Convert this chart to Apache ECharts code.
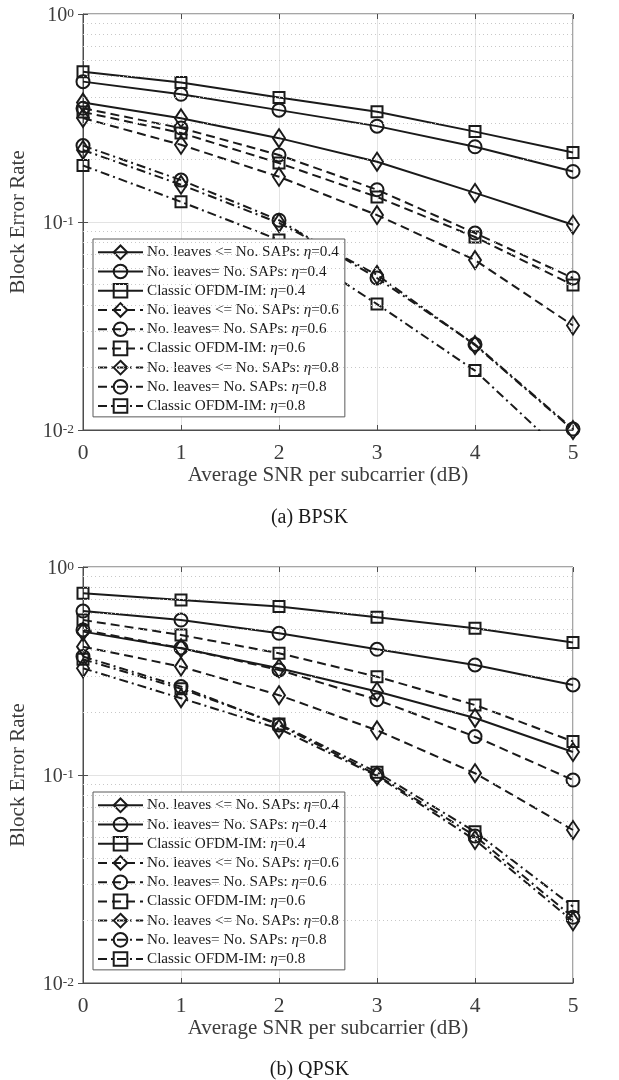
<!DOCTYPE html>
<html>
<head>
<meta charset="utf-8">
<script src="https://cdn.jsdelivr.net/npm/echarts@6/dist/echarts.min.js"></script>
<style>
html,body{margin:0;padding:0;background:#fff;}
#chart{width:619px;height:1080px;}
</style>
</head>
<body>
<div id="chart"></div>
<script>
// ---------- data ----------
const snr = [0, 1, 2, 3, 4, 5];
const seriesNames = [
  'No. leaves <= No. SAPs: η=0.4',
  'No. leaves= No. SAPs: η=0.4',
  'Classic OFDM-IM: η=0.4',
  'No. leaves <= No. SAPs: η=0.6',
  'No. leaves= No. SAPs: η=0.6',
  'Classic OFDM-IM: η=0.6',
  'No. leaves <= No. SAPs: η=0.8',
  'No. leaves= No. SAPs: η=0.8',
  'Classic OFDM-IM: η=0.8'
];
// (a) BPSK
const bpskLeq04 = [0.375, 0.315, 0.253, 0.195, 0.138, 0.097];
const bpskEq04 = [0.473, 0.411, 0.345, 0.289, 0.230, 0.175];
const bpskClassic04 = [0.528, 0.468, 0.397, 0.339, 0.272, 0.216];
const bpskLeq06 = [0.316, 0.235, 0.165, 0.108, 0.0656, 0.0318];
const bpskEq06 = [0.352, 0.283, 0.210, 0.143, 0.0885, 0.0538];
const bpskClassic06 = [0.338, 0.268, 0.192, 0.132, 0.0847, 0.0498];
const bpskLeq08 = [0.222, 0.151, 0.099, 0.0557, 0.0256, 0.0100];
const bpskEq08 = [0.233, 0.159, 0.102, 0.0538, 0.0258, 0.0101];
const bpskClassic08 = [0.187, 0.125, 0.082, 0.0403, 0.0193, 0.0070];
// (b) QPSK
const qpskLeq04 = [0.489, 0.407, 0.326, 0.252, 0.188, 0.129];
const qpskEq04 = [0.614, 0.556, 0.480, 0.402, 0.338, 0.271];
const qpskClassic04 = [0.747, 0.694, 0.645, 0.573, 0.507, 0.433];
const qpskLeq06 = [0.414, 0.332, 0.242, 0.164, 0.102, 0.0544];
const qpskEq06 = [0.498, 0.408, 0.320, 0.230, 0.153, 0.0946];
const qpskClassic06 = [0.556, 0.471, 0.385, 0.297, 0.217, 0.145];
const qpskLeq08 = [0.326, 0.234, 0.167, 0.099, 0.0487, 0.0198];
const qpskEq08 = [0.371, 0.266, 0.174, 0.100, 0.0509, 0.0207];
const qpskClassic08 = [0.360, 0.260, 0.176, 0.103, 0.0534, 0.0233];

const xTicks = [0, 1, 2, 3, 4, 5];
const minorTicks = [0.02, 0.03, 0.04, 0.05, 0.06, 0.07, 0.08, 0.09,
                    0.2, 0.3, 0.4, 0.5, 0.6, 0.7, 0.8, 0.9];
const captions = ['(a) BPSK', '(b) QPSK'];

// ---------- style ----------
const FONT = 'Liberation Serif';
const INK = '#1a1a1a';
const TXT = '#3c3c3c';
const symbols = [
  {symbol: 'diamond', size: [12, 18]},
  {symbol: 'circle', size: 13},
  {symbol: 'rect', size: 11}
];
const dashes = ['solid', [9, 5], [9, 4, 2, 4]];

const bpskSets = [bpskLeq04, bpskEq04, bpskClassic04, bpskLeq06, bpskEq06, bpskClassic06, bpskLeq08, bpskEq08, bpskClassic08];
const qpskSets = [qpskLeq04, qpskEq04, qpskClassic04, qpskLeq06, qpskEq06, qpskClassic06, qpskLeq08, qpskEq08, qpskClassic08];

const gridTops = [14, 567];
const plotH = 416;

function makeSeries(gridIdx, sets) {
  return sets.map((vals, i) => {
    const sym = symbols[i % 3];
    const s = {
      type: 'line',
      name: seriesNames[i],
      xAxisIndex: gridIdx,
      yAxisIndex: gridIdx,
      data: snr.map((x, k) => [x, vals[k]]),
      symbol: sym.symbol,
      symbolSize: sym.size,
      showSymbol: true,
      showAllSymbol: true,
      clip: true,
      color: INK,
      lineStyle: {color: INK, width: 2, type: dashes[Math.floor(i / 3)]},
      itemStyle: {color: 'rgba(0,0,0,0)', borderColor: INK, borderWidth: 2},
      emphasis: {disabled: true},
      animation: false,
      z: 3
    };
    if (i === 0) {
      s.markLine = {
        silent: true,
        symbol: 'none',
        label: {show: false},
        animation: false,
        lineStyle: {color: '#c8c8c8', width: 1, type: [1, 3]},
        data: minorTicks.map(v => ({yAxis: v}))
      };
    }
    return s;
  });
}

function yLabel(v) {
  const e = Math.round(Math.log10(v));
  return '{b|10}{s|' + e + '}';
}

const grids = gridTops.map(t => ({
  left: 82.5, width: 490.5, top: t, height: plotH,
  show: true, borderColor: '#4d4d4d', borderWidth: 1, backgroundColor: 'transparent'
}));

const xAxes = [];
const yAxes = [];
[0, 1].forEach(g => {
  xAxes.push({
    type: 'value', gridIndex: g, min: 0, max: 5, interval: 1, position: 'bottom',
    axisLine: {show: true, lineStyle: {color: '#4d4d4d', width: 1}},
    axisTick: {show: true, inside: true, length: 5, lineStyle: {color: '#4d4d4d'}},
    axisLabel: {color: TXT, fontFamily: FONT, fontSize: 21.5, margin: 12,
      formatter: v => xTicks.includes(v) ? String(v) : ''},
    splitLine: {show: true, lineStyle: {color: '#e3e3e3', width: 1}},
    name: 'Average SNR per subcarrier (dB)', nameLocation: 'middle', nameGap: 33,
    nameTextStyle: {color: TXT, fontFamily: FONT, fontSize: 21}
  });
  yAxes.push({
    type: 'log', gridIndex: g, min: 0.01, max: 1, logBase: 10, position: 'left',
    axisLine: {show: true, lineStyle: {color: '#4d4d4d', width: 1}},
    axisTick: {show: true, inside: true, length: 5, lineStyle: {color: '#4d4d4d'}},
    axisLabel: {
      margin: 9, formatter: yLabel, padding: [4, 0, 0, 0],
      rich: {
        b: {fontFamily: FONT, fontSize: 20, color: TXT, lineHeight: 20, padding: [6, 0, 0, 0], verticalAlign: 'bottom'},
        s: {fontFamily: FONT, fontSize: 13.5, color: TXT, lineHeight: 13, verticalAlign: 'top'}
      }
    },
    splitLine: {show: true, lineStyle: {color: '#e3e3e3', width: 1}},
    name: 'Block Error Rate', nameLocation: 'middle', nameGap: 54,
    nameTextStyle: {color: TXT, fontFamily: FONT, fontSize: 21}
  });
});
[0, 1].forEach(g => {
  xAxes.push({
    type: 'value', gridIndex: g, min: 0, max: 5, interval: 1, position: 'top',
    axisLine: {show: false}, axisLabel: {show: false}, splitLine: {show: false},
    axisTick: {show: true, inside: true, length: 5, lineStyle: {color: '#4d4d4d'}}
  });
  yAxes.push({
    type: 'log', gridIndex: g, min: 0.01, max: 1, logBase: 10, position: 'right',
    axisLine: {show: false}, axisLabel: {show: false}, splitLine: {show: false},
    axisTick: {show: true, inside: true, length: 5, lineStyle: {color: '#4d4d4d'}}
  });
});

const legendTops = [239, 792];
const legends = legendTops.map((t, g) => ({
  orient: 'vertical', left: 93, top: t,
  data: seriesNames,
  itemWidth: 45, itemHeight: 17, itemGap: 3.62,
  padding: [5.5, 6, 3, 4],
  backgroundColor: '#ffffff', borderColor: '#5a5a5a', borderWidth: 1,
  selectedMode: false,
  formatter: n => n.replace('η', '{i|η}'),
  textStyle: {
    fontFamily: FONT, fontSize: 15.2, color: '#1a1a1a', padding: [0, 0, 0, -1],
    rich: {i: {fontFamily: FONT, fontSize: 15.2, fontStyle: 'italic', color: '#1a1a1a'}}
  }
}));

const titles = captions.map((c, g) => ({
  text: c, left: 'center', top: g === 0 ? 503 : 1055,
  textStyle: {fontFamily: FONT, fontSize: 20, fontWeight: 'normal', color: '#1a1a1a'}
}));

const chart = echarts.init(document.getElementById('chart'), null, {renderer: 'canvas'});
chart.setOption({
  backgroundColor: '#ffffff',
  animation: false,
  title: titles,
  grid: grids,
  xAxis: xAxes,
  yAxis: yAxes,
  legend: legends,
  series: makeSeries(0, bpskSets).concat(makeSeries(1, qpskSets))
});
</script>
</body>
</html>
